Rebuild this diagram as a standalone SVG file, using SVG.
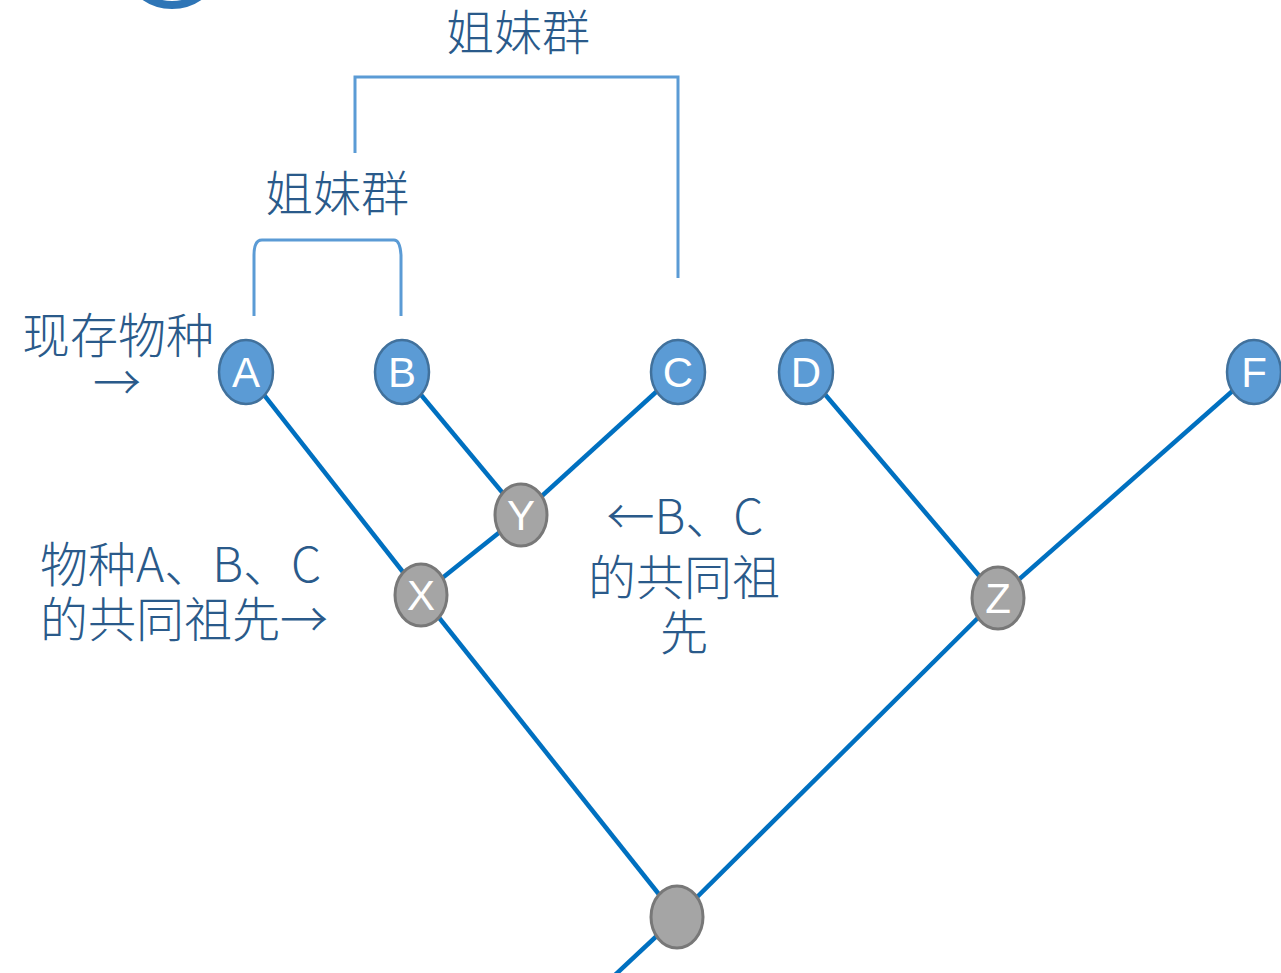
<svg xmlns="http://www.w3.org/2000/svg" width="1281" height="973" viewBox="0 0 1281 973">
<style>
.t{font-family:"Noto Sans CJK SC","Liberation Sans",sans-serif;font-size:48px;fill:#2a5a8a;font-weight:300}
.br{fill:none;stroke:#5b9bd5;stroke-width:3}
.e{stroke:#0070c0;stroke-width:4.5;fill:none}
.b{fill:#5b9bd5;stroke:#41719c;stroke-width:2.5}
.g{fill:#a5a5a5;stroke:#787878;stroke-width:3}
.l{font-family:"Liberation Sans",Arial,sans-serif;font-size:42px;fill:#fff;text-anchor:middle;font-weight:300}
</style>
<rect width="1281" height="973" fill="#fff"/>
<circle cx="172" cy="-43" r="48" fill="#fff" stroke="#2e75b6" stroke-width="8"/>
<g id="connectors">
<line class="e" x1="246" y1="372" x2="421" y2="595" stroke-width="5.5"/>
<line class="e" x1="421" y1="595" x2="677" y2="917"/>
<line class="e" x1="677" y1="917" x2="615" y2="975"/>
<line class="e" x1="402" y1="372" x2="521" y2="515"/>
<line class="e" x1="678" y1="372" x2="521" y2="515" stroke-width="5.5"/>
<line class="e" x1="521" y1="515" x2="421" y2="595"/>
<line class="e" x1="806" y1="372" x2="998" y2="598"/>
<line class="e" x1="1254" y1="372" x2="998" y2="598"/>
<line class="e" x1="998" y1="598" x2="677" y2="917"/>
</g>
<g id="brackets">
<path class="br" d="M254 316 V255 Q254 240 262 240 H394 Q400 240 401 255 V316"/>
<path class="br" d="M355 153 V77 H678 V278"/>
</g>
<g id="labels">
<text class="t" x="518" y="50" text-anchor="middle">姐妹群</text>
<text class="t" x="337" y="211" text-anchor="middle">姐妹群</text>
<text class="t" x="22" y="353">现存物种</text>
<text class="t" x="117" y="400" text-anchor="middle">→</text>
<text class="t" x="40" y="582">物种A、B、C</text>
<text class="t" x="40" y="637">的共同祖先→</text>
<text class="t" x="685" y="534" text-anchor="middle">←B、C</text>
<text class="t" x="684" y="595" text-anchor="middle">的共同祖</text>
<text class="t" x="684" y="650" text-anchor="middle">先</text>
</g>
<g id="node-A"><ellipse class="b" cx="246" cy="372" rx="27" ry="32"/><text class="l" x="246" y="387">A</text></g>
<g id="node-B"><ellipse class="b" cx="402" cy="372" rx="27" ry="32"/><text class="l" x="402" y="387">B</text></g>
<g id="node-C"><ellipse class="b" cx="678" cy="372" rx="27" ry="32"/><text class="l" x="678" y="387">C</text></g>
<g id="node-D"><ellipse class="b" cx="806" cy="372" rx="27" ry="32"/><text class="l" x="806" y="387">D</text></g>
<g id="node-F"><ellipse class="b" cx="1254" cy="372" rx="27" ry="32"/><text class="l" x="1254" y="387">F</text></g>
<g id="node-Y"><ellipse class="g" cx="521" cy="515" rx="26" ry="31"/><text class="l" x="521" y="530">Y</text></g>
<g id="node-X"><ellipse class="g" cx="421" cy="595" rx="26" ry="31"/><text class="l" x="421" y="610">X</text></g>
<g id="node-Z"><ellipse class="g" cx="998" cy="598" rx="26" ry="31"/><text class="l" x="998" y="613">Z</text></g>
<g id="node-root"><ellipse class="g" cx="677" cy="917" rx="26" ry="31"/></g>
</svg>
